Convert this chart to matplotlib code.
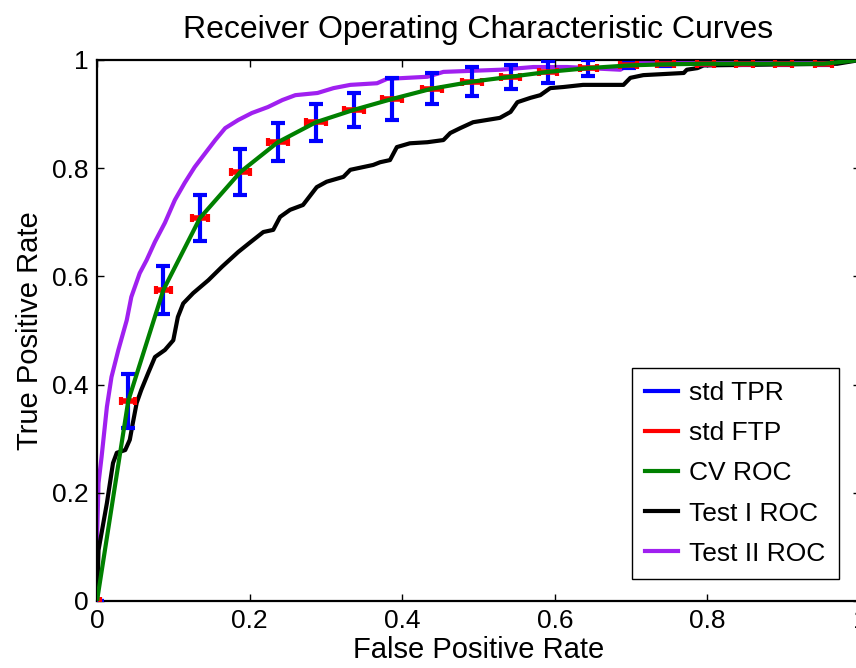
import numpy as np
import matplotlib.pyplot as plt

plt.rcParams['font.family'] = ['Liberation Sans', 'DejaVu Sans']

# mean points of the cross-validation ROC with std in both directions
mean_fpr = [0.0, 0.041, 0.087, 0.135, 0.188, 0.237, 0.287, 0.337, 0.387, 0.439, 0.492,
            0.542, 0.591, 0.644, 0.697, 0.745, 0.797, 0.849, 0.900, 0.952, 1.0]
mean_tpr = [0.0, 0.370, 0.575, 0.708, 0.793, 0.848, 0.885, 0.908, 0.928, 0.947, 0.960,
            0.969, 0.978, 0.985, 0.990, 0.992, 0.993, 0.993, 0.993, 0.993, 1.0]
std_tpr = [0.0, 0.050, 0.045, 0.043, 0.042, 0.035, 0.034, 0.031, 0.039, 0.029, 0.027,
           0.022, 0.021, 0.015, 0.004, 0.003, 0.002, 0.002, 0.002, 0.002, 0.0]
std_fpr = [0.004, 0.009, 0.010, 0.011, 0.012, 0.013, 0.013, 0.013, 0.013, 0.013, 0.013,
           0.012, 0.012, 0.011, 0.011, 0.011, 0.011, 0.011, 0.011, 0.011, 0.0]

# Test I ROC
test1_fpr = [0.0, 0.002, 0.013, 0.021, 0.026, 0.037, 0.043, 0.047, 0.052, 0.058, 0.067,
             0.076, 0.089, 0.100, 0.106, 0.113, 0.126, 0.146, 0.164, 0.185, 0.200,
             0.218, 0.231, 0.240, 0.253, 0.270, 0.288, 0.301, 0.323, 0.332, 0.362,
             0.371, 0.384, 0.393, 0.410, 0.433, 0.454, 0.463, 0.476, 0.493, 0.528,
             0.542, 0.551, 0.568, 0.581, 0.594, 0.611, 0.637, 0.690, 0.699, 0.716,
             0.769, 0.773, 0.787, 0.795, 0.970, 1.0]
test1_tpr = [0.0, 0.094, 0.181, 0.255, 0.274, 0.279, 0.298, 0.329, 0.366, 0.390, 0.421,
             0.451, 0.464, 0.482, 0.525, 0.550, 0.569, 0.593, 0.618, 0.645, 0.662,
             0.682, 0.686, 0.710, 0.723, 0.732, 0.765, 0.775, 0.784, 0.797, 0.806,
             0.811, 0.815, 0.839, 0.846, 0.848, 0.852, 0.865, 0.874, 0.885, 0.893,
             0.904, 0.922, 0.930, 0.935, 0.948, 0.950, 0.954, 0.954, 0.967, 0.972,
             0.976, 0.982, 0.985, 0.990, 0.993, 1.0]

# Test II ROC
test2_fpr = [0.0, 0.0, 0.002, 0.006, 0.013, 0.019, 0.028, 0.039, 0.045, 0.056, 0.065,
             0.076, 0.089, 0.102, 0.115, 0.128, 0.142, 0.155, 0.168, 0.185, 0.203,
             0.224, 0.243, 0.260, 0.289, 0.310, 0.332, 0.367, 0.380, 0.433, 0.454,
             0.529, 0.572, 0.616, 0.686, 0.700, 0.800, 1.0]
test2_tpr = [0.0, 0.113, 0.218, 0.266, 0.359, 0.414, 0.464, 0.519, 0.562, 0.606, 0.630,
             0.664, 0.699, 0.741, 0.773, 0.802, 0.828, 0.852, 0.874, 0.889, 0.902,
             0.913, 0.926, 0.935, 0.939, 0.948, 0.954, 0.957, 0.965, 0.969, 0.978,
             0.982, 0.987, 0.987, 0.982, 0.995, 1.0, 1.0]

fig = plt.figure(figsize=(8.56, 6.68), dpi=100)
ax = fig.add_axes([0.1133, 0.1003, 0.8914, 0.8099])

h_tpr = ax.errorbar(mean_fpr, mean_tpr, yerr=std_tpr, fmt='none', ecolor='blue',
                    elinewidth=3, capsize=5, capthick=3, zorder=3)
h_fpr = ax.errorbar(mean_fpr, mean_tpr, xerr=std_fpr, fmt='none', ecolor='red',
                    elinewidth=4, capsize=3, capthick=3, zorder=4)
h_cv, = ax.plot(mean_fpr, mean_tpr, color='green', lw=3, zorder=5)
h_t1, = ax.plot(test1_fpr, test1_tpr, color='black', lw=3, zorder=2)
h_t2, = ax.plot(test2_fpr, test2_tpr, color='#a020f0', lw=3, zorder=1)

# legend uses plain line handles like the original
l_tpr, = ax.plot([], [], color='blue', lw=3)
l_fpr, = ax.plot([], [], color='red', lw=3)
leg = ax.legend([l_tpr, l_fpr, h_cv, h_t1, h_t2],
                ['std TPR', 'std FTP', 'CV ROC', 'Test I ROC', 'Test II ROC'],
                loc='lower right', bbox_to_anchor=(0.972, 0.041), fontsize=19,
                fancybox=False, framealpha=1, edgecolor='black',
                handlelength=1.25, handletextpad=0.42, labelspacing=0.61,
                borderpad=0.5, borderaxespad=0)
leg.get_frame().set_linewidth(1)

ax.set_xlim(0, 1)
ax.set_ylim(0, 1)
ticks = [0, 0.2, 0.4, 0.6, 0.8, 1]
labels = ['0', '0.2', '0.4', '0.6', '0.8', '1']
ax.set_xticks(ticks)
ax.set_xticklabels(labels)
ax.set_yticks(ticks)
ax.set_yticklabels(labels)
ax.tick_params(direction='in', top=True, right=True, length=5, width=1,
               labelsize=19, pad=6)
for s in ax.spines.values():
    s.set_linewidth(1.6)

ax.set_title('Receiver Operating Characteristic Curves', fontsize=23, pad=16)
ax.set_xlabel('False Positive Rate', fontsize=21, labelpad=2)
ax.set_ylabel('True Positive Rate', fontsize=21, labelpad=6)

fig.savefig('out.png', dpi=100)
